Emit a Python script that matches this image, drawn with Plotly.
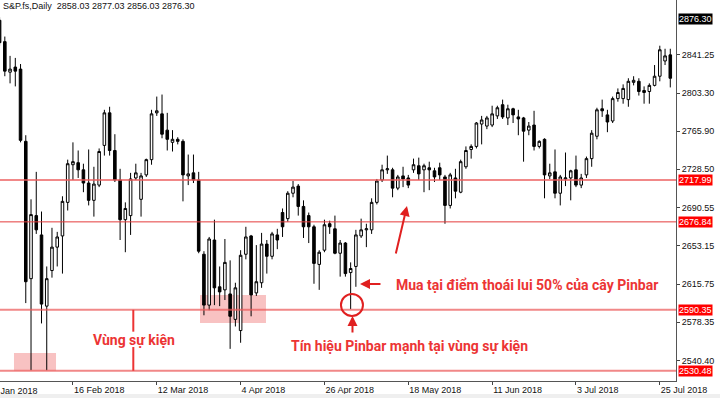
import pandas as pd
import plotly.graph_objects as go

# ---- data -------------------------------------------------------------
dates = [d for d in pd.bdate_range("2018-01-29", "2018-07-27") if d != pd.Timestamp("2018-03-30")]

open_ = [2875, 2854, 2824, 2829, 2827, 2756, 2621, 2683, 2664, 2594,
         2629, 2652, 2663, 2696, 2733,
         2735, 2728, 2715, 2698, 2713,
         2752, 2784, 2747, 2718, 2679,
         2683, 2720, 2699, 2723, 2738,
         2784, 2783, 2767, 2755, 2758,
         2756, 2722, 2725, 2718, 2645,
         2595, 2659, 2613, 2610,
         2606, 2581, 2570, 2645, 2663,
         2607, 2617, 2655, 2643, 2664,
         2686, 2680, 2705, 2712, 2692,
         2683, 2672, 2635, 2649, 2675,
         2670, 2646, 2656, 2627, 2633,
         2663, 2669, 2669, 2696, 2718,
         2728, 2728, 2710, 2722, 2720,
         2728, 2732, 2728, 2730, 2727,
         2730, 2721, 2693, 2720, 2706,
         2731, 2748, 2751, 2773, 2771,
         2772, 2781, 2792, 2779, 2788,
         2780, 2779, 2767, 2772, 2751,
         2758, 2722, 2726, 2705, 2719,
         2720, 2728, 2713, 2723, 2739,
         2761, 2788, 2782, 2776, 2798,
         2798, 2797, 2814, 2815, 2806,
         2805, 2811, 2820, 2835, 2841]

high = [2878, 2859, 2840, 2838, 2832, 2762, 2699, 2726, 2687, 2633,
        2671, 2667, 2702, 2738, 2755,
        2747, 2734, 2748, 2731, 2749,
        2787, 2790, 2763, 2729, 2696,
        2725, 2734, 2725, 2739, 2787,
        2800, 2802, 2784, 2767, 2760,
        2758, 2743, 2743, 2726, 2648,
        2662, 2679, 2633, 2660,
        2639, 2617, 2649, 2672, 2664,
        2654, 2666, 2659, 2667, 2670,
        2690, 2707, 2717, 2714, 2698,
        2686, 2674, 2649, 2679, 2678,
        2683, 2659, 2657, 2637, 2669,
        2680, 2675, 2700, 2719, 2733,
        2742, 2730, 2723, 2731, 2723,
        2739, 2740, 2734, 2736, 2730,
        2735, 2723, 2725, 2729, 2738,
        2751, 2753, 2775, 2781, 2781,
        2791, 2791, 2797, 2792, 2789,
        2787, 2780, 2775, 2786, 2757,
        2759, 2734, 2748, 2723, 2745,
        2728, 2742, 2724, 2741, 2767,
        2789, 2797, 2787, 2800, 2808,
        2812, 2818, 2820, 2818, 2810,
        2813, 2831, 2850, 2847, 2847]

low = [2850, 2820, 2813, 2810, 2755, 2597, 2531, 2665, 2577, 2531,
       2622, 2633, 2626, 2688, 2718,
       2720, 2706, 2693, 2682, 2711,
       2742, 2742, 2716, 2659, 2647,
       2664, 2718, 2682, 2721, 2733,
       2781, 2759, 2747, 2746, 2753,
       2697, 2713, 2715, 2646, 2585,
       2590, 2595, 2594, 2600,
       2552, 2574, 2558, 2640, 2584,
       2604, 2612, 2626, 2640, 2650,
       2662, 2677, 2701, 2683, 2661,
       2656, 2616, 2610, 2647, 2665,
       2645, 2623, 2623, 2591, 2613,
       2661, 2652, 2665, 2694, 2716,
       2724, 2701, 2708, 2711, 2710,
       2725, 2718, 2706, 2708, 2716,
       2718, 2675, 2690, 2700, 2705,
       2729, 2739, 2749, 2753, 2768,
       2770, 2778, 2778, 2772, 2774,
       2762, 2736, 2762, 2747, 2749,
       2700, 2719, 2700, 2693, 2712,
       2698, 2711, 2710, 2720, 2731,
       2758, 2780, 2765, 2774, 2795,
       2793, 2790, 2811, 2801, 2793,
       2793, 2810, 2815, 2831, 2809]

close = [2853, 2825, 2827, 2825, 2757, 2618, 2684, 2669, 2596, 2621,
         2652, 2662, 2697, 2734, 2736,
         2728, 2715, 2698, 2714, 2746,
         2784, 2747, 2718, 2679, 2690,
         2719, 2725, 2722, 2738, 2783,
         2786, 2763, 2758, 2758, 2756,
         2723, 2724, 2718, 2648, 2595,
         2660, 2612, 2608, 2637,
         2584, 2612, 2644, 2662, 2605,
         2618, 2655, 2643, 2665, 2659,
         2672, 2705, 2711, 2692, 2672,
         2672, 2636, 2647, 2674, 2672,
         2646, 2656, 2626, 2631, 2664,
         2669, 2670, 2696, 2717, 2728,
         2729, 2710, 2721, 2719, 2713,
         2733, 2724, 2732, 2728, 2721,
         2723, 2693, 2723, 2707, 2736,
         2747, 2751, 2774, 2777, 2779,
         2783, 2789, 2780, 2788, 2782,
         2778, 2766, 2771, 2751, 2756,
         2723, 2725, 2705, 2721, 2720,
         2727, 2713, 2720, 2739, 2764,
         2787, 2786, 2775, 2798, 2804,
         2808, 2815, 2816, 2805, 2804,
         2811, 2820, 2846, 2840, 2818]

date_labels = ["25 Jan 2018", "16 Feb 2018", "12 Mar 2018", "4 Apr 2018", "26 Apr 2018",
               "18 May 2018", "11 Jun 2018", "3 Jul 2018", "25 Jul 2018"]
price_ticks = [2841.25, 2803.30, 2765.90, 2728.50, 2690.55, 2653.15, 2615.75, 2578.35, 2540.40]
level_lines = [2717.99, 2676.84, 2590.35, 2530.48]
current_price = 2876.30
header = "S&P.fs,Daily  2858.03 2877.03 2856.03 2876.30"

# ---- positions ----------------------------------------------------------
xpos = list(range(len(dates)))
date_index = {d.strftime("%-d %b %Y"): i for i, d in enumerate(dates)}
in_range_labels = [l for l in date_labels if l in date_index]
tick_pos = [date_index[l] for l in in_range_labels]
pin = date_index["3 May 2018"]

RED = "#ec3434"
PINK = "rgba(236,90,90,0.72)"
FONT = "Liberation Sans, Arial, sans-serif"
TFONT = "Roboto, sans-serif"

fig = go.Figure()
fig.add_trace(go.Candlestick(
    x=xpos, open=open_, high=high, low=low, close=close,
    increasing=dict(line=dict(color="#000000", width=1), fillcolor="#ffffff"),
    decreasing=dict(line=dict(color="#000000", width=1), fillcolor="#000000"),
    whiskerwidth=0, showlegend=False, hoverinfo="skip"))

shapes = []
# event zones (background)
shapes.append(dict(type="rect", xref="x", yref="y", x0=2.75, x1=10.77, y0=level_lines[3], y1=2548.0,
                   fillcolor="rgba(240,120,120,0.45)", line=dict(width=0), layer="below"))
shapes.append(dict(type="rect", xref="x", yref="y", x0=38.25, x1=50.84, y0=2577.4, y1=2604.9,
                   fillcolor="rgba(240,120,120,0.45)", line=dict(width=0), layer="below"))
# horizontal levels
for lv in level_lines:
    thin = lv == 2676.84
    shapes.append(dict(type="line", xref="paper", yref="y", x0=0, x1=1, y0=lv, y1=lv,
                       line=dict(color="#e43c3c" if thin else PINK, width=1 if thin else 2), layer="above"))
# vertical marker of the event zone
shapes.append(dict(type="line", xref="x", yref="y", x0=25.52, x1=25.52, y0=level_lines[2], y1=2568.9,
                   line=dict(color=RED, width=2)))
shapes.append(dict(type="line", xref="x", yref="y", x0=25.52, x1=25.52, y0=2553.8, y1=level_lines[3],
                   line=dict(color=RED, width=2)))
# circle around the pinbar low
shapes.append(dict(type="circle", xref="x", yref="y", x0=pin - 1.85, x1=pin + 2.35, y0=2584.3, y1=2605.9,
                   line=dict(color="#e02020", width=2)))
# bottom window strip
shapes.append(dict(type="rect", xref="paper", yref="paper", x0=-0.01, x1=1.07, y0=-0.06, y1=-0.034,
                   fillcolor="#efefef", line=dict(width=0)))

ann = []
ann.append(dict(xref="paper", yref="paper", x=0, y=1, xanchor="left", yanchor="top", xshift=1, yshift=1,
                text=header, showarrow=False, font=dict(family=FONT, size=9, color="#111")))
ann.append(dict(xref="paper", yref="paper", x=0, y=0, xanchor="left", yanchor="top", xshift=-14, yshift=-3,
                text=date_labels[0], showarrow=False, font=dict(family=FONT, size=9, color="#111")))
for lv in level_lines:
    ann.append(dict(xref="paper", yref="y", x=1, y=lv, xanchor="left", yanchor="middle", xshift=2,
                    text=f"{lv:.2f}", showarrow=False, bgcolor="#ff0000", borderpad=0,
                    font=dict(family=FONT, size=9, color="#ffffff")))
ann.append(dict(xref="paper", yref="y", x=1, y=current_price, xanchor="left", yanchor="middle", xshift=2,
                text=f"{current_price:.2f}", showarrow=False, bgcolor="#000000", borderpad=0,
                font=dict(family=FONT, size=9, color="#ffffff")))
ann.append(dict(xref="x", yref="y", x=25.56, y=2561.2, text="<b>Vùng sự kiện</b>", showarrow=False,
                font=dict(family=TFONT, size=14, color=RED)))
ann.append(dict(xref="x", yref="y", x=75.27, y=2614.8, xanchor="left", text="<b>Mua tại điểm thoái lui 50% của cây Pinbar</b>",
                showarrow=False, font=dict(family=TFONT, size=14, color=RED)))
ann.append(dict(xref="x", yref="y", x=55.23, y=2554.8, xanchor="left", text="<b>Tín hiệu Pinbar mạnh tại vùng sự kiện</b>",
                showarrow=False, font=dict(family=TFONT, size=14, color=RED)))
# arrows
ann.append(dict(xref="x", yref="y", x=pin + 1.78, y=2615.76, ax=22, ay=0, text="", showarrow=True,
                arrowhead=2, arrowsize=1, arrowwidth=2, arrowcolor="#e02020"))
ann.append(dict(xref="x", yref="y", x=pin + 0.35, y=2584.3, ax=0, ay=18, text="", showarrow=True,
                arrowhead=2, arrowsize=1, arrowwidth=2, arrowcolor="#e02020"))
ann.append(dict(xref="x", yref="y", x=77.75, y=2692.4, ax=-11.5, ay=49, text="", showarrow=True,
                arrowhead=2, arrowsize=1, arrowwidth=2, arrowcolor="#e02020"))

fig.update_layout(
    width=720, height=398, margin=dict(l=0, r=44, t=0, b=17),
    paper_bgcolor="#ffffff", plot_bgcolor="#ffffff",
    shapes=shapes, annotations=ann, showlegend=False, hovermode=False,
    xaxis=dict(range=[0.08, 129.09], rangeslider=dict(visible=False), showgrid=False, zeroline=False,
               tickmode="array", tickvals=tick_pos, ticktext=in_range_labels,
               ticklabelposition="outside right", ticks="outside", ticklen=3, tickcolor="#444",
               showline=True, linecolor="#555", linewidth=1,
               tickfont=dict(family=FONT, size=9, color="#111")),
    yaxis=dict(range=[2520.41, 2894.93], side="right", showgrid=False, zeroline=False,
               tickmode="array", tickvals=price_ticks, ticktext=[f"{v:.2f}" for v in price_ticks],
               ticks="outside", ticklen=3, tickcolor="#444", showline=True, linecolor="#555", linewidth=1,
               tickfont=dict(family=FONT, size=9, color="#111")),
)

fig.write_html("out.html", config={"displayModeBar": False},
               post_script="document.body.style.margin='0';document.body.style.padding='0';document.body.style.overflow='hidden';")
